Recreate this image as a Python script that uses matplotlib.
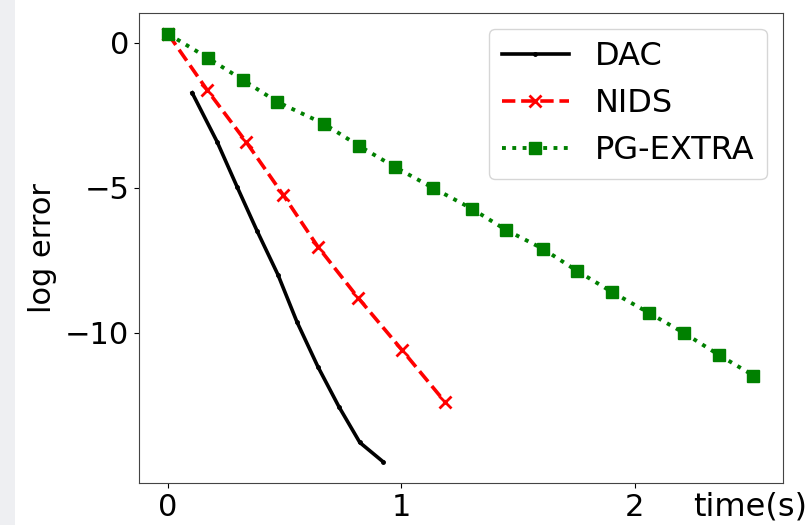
import matplotlib.pyplot as plt
from matplotlib.patches import Rectangle

# run time (s) and log error for each method
dac_t = [0.103, 0.21, 0.296, 0.381, 0.471, 0.552, 0.642, 0.732, 0.822, 0.921]
dac_err = [-1.72, -3.41, -4.97, -6.48, -8.0, -9.62, -11.17, -12.55, -13.79, -14.45]

nids_t = [0.0, 0.167, 0.334, 0.493, 0.642, 0.814, 1.002, 1.186]
nids_err = [0.31, -1.62, -3.41, -5.24, -7.03, -8.79, -10.59, -12.38]

pg_t = [0.0, 0.171, 0.321, 0.467, 0.668, 0.818, 0.972, 1.135, 1.302,
        1.448, 1.606, 1.752, 1.902, 2.06, 2.21, 2.36, 2.51]
pg_err = [0.31, -0.52, -1.28, -2.03, -2.79, -3.55, -4.28, -5.0, -5.72,
          -6.45, -7.1, -7.86, -8.59, -9.31, -10.0, -10.76, -11.48]

yticks = [-10, -5, 0]
xticks = [0, 1, 2]

fig = plt.figure(figsize=(8.12, 5.25), dpi=100)
fig.patches.append(Rectangle((0, 0), 15 / 812, 1, transform=fig.transFigure,
                             facecolor='#eeeff2', edgecolor='none', zorder=-1))
ax = fig.add_axes([0.171, 0.08, 0.793, 0.896])

ax.plot(dac_t, dac_err, '-k', marker='.', markersize=5, linewidth=2.6, label='DAC')
ax.plot(nids_t, nids_err, '--', color='red', marker='x', markersize=9,
        markeredgewidth=2, linewidth=2.6, label='NIDS')
ax.plot(pg_t, pg_err, ':', color='green', marker='s', markersize=8,
        linewidth=2.8, label='PG-EXTRA')

ax.set_xticks(xticks)
ax.set_yticks(yticks)
ax.tick_params(labelsize=22)
ax.set_ylabel('log error', fontsize=22, labelpad=6)
ax.set_xlabel('time(s)', fontsize=23)
ax.xaxis.set_label_coords(0.949, -0.018)
ax.legend(loc='upper right', fontsize=23, handlelength=2.1)

for s in ax.spines.values():
    s.set_color('#444444')

plt.savefig('out.png', dpi=100)
